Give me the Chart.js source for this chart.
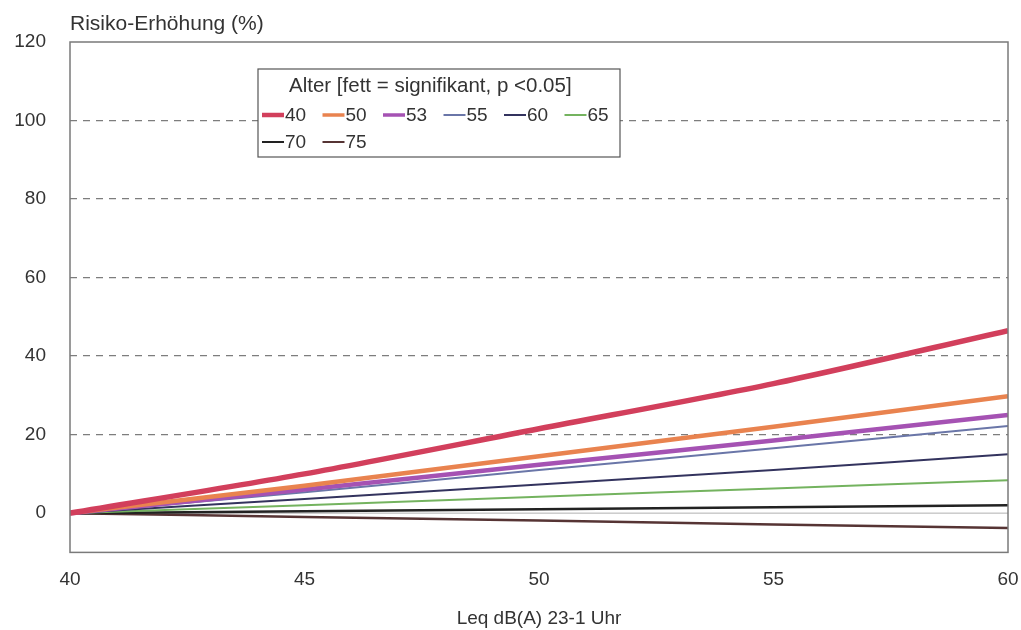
<!DOCTYPE html>
<html>
<head>
<meta charset="utf-8">
<script src="https://cdn.jsdelivr.net/npm/chart.js@4/dist/chart.umd.min.js"></script>
<style>
  html, body { margin: 0; padding: 0; background: #fff; }
  #wrap { width: 1021px; height: 630px; position: relative; }
</style>
</head>
<body>
<div id="wrap"><canvas id="riskChart" width="1021" height="630"></canvas></div>
<script>
// Leq values on the x axis
const leqLevels = [40, 45, 50, 55, 60];
const yTickValues = [0, 20, 40, 60, 80, 100, 120];

// Risk increase (%) per age group
const age40 = [0, 10, 21.5, 33, 46.5];
const age50 = [0, 7, 14.5, 22, 29.8];
const age53 = [0, 6, 12.3, 18.5, 25];
const age55 = [0, 5.3, 11, 16.5, 22.2];
const age60 = [0, 3.6, 7.3, 11, 15];
const age65 = [0, 2, 4.2, 6.3, 8.4];
const age70 = [0, 0.5, 1, 1.5, 2];
const age75 = [0, -1, -1.9, -2.9, -3.8];

const ageLabels = ['40', '50', '53', '55', '60', '65', '70', '75'];
const seriesValues = [age40, age50, age53, age55, age60, age65, age70, age75];
const lineColors = ['#d23f5c', '#e9834f', '#a552b3', '#6a76a8', '#33335e', '#74b35f', '#222222', '#563434'];
const lineWidths = [5.5, 4.5, 4.5, 2, 2, 2, 2.5, 2.5];

const fontFam = '"Liberation Sans", Arial, sans-serif';

const datasets = seriesValues.map((vals, i) => ({
    label: ageLabels[i],
    data: vals.map((v, j) => ({ x: leqLevels[j], y: v })),
    borderColor: lineColors[i],
    backgroundColor: lineColors[i],
    borderWidth: lineWidths[i],
    pointRadius: 0,
    tension: 0.3,
    fill: false,
    order: i
}));

// frame, zero line, axis title and the boxed legend
const extras = {
    id: 'extras',
    beforeDatasetsDraw(chart) {
        const { ctx, chartArea: a, scales } = chart;
        const y0 = scales.y.getPixelForValue(0);
        ctx.save();
        ctx.strokeStyle = '#b0b0b0';
        ctx.lineWidth = 1;
        ctx.beginPath();
        ctx.moveTo(a.left, y0);
        ctx.lineTo(a.right, y0);
        ctx.stroke();
        ctx.restore();
    },
    afterDraw(chart) {
        const { ctx, chartArea: a } = chart;
        ctx.save();
        ctx.strokeStyle = '#7a7a7a';
        ctx.lineWidth = 1.5;
        ctx.strokeRect(a.left, a.top, a.right - a.left, a.bottom - a.top);

        ctx.fillStyle = '#333';
        ctx.font = '21px ' + fontFam;
        ctx.textAlign = 'left';
        ctx.textBaseline = 'middle';
        ctx.fillText('Risiko-Erhöhung (%)', a.left, 24);

        // legend box
        const bx = 258, by = 69, bw = 362, bh = 88;
        ctx.fillStyle = '#fff';
        ctx.fillRect(bx, by, bw, bh);
        ctx.strokeStyle = '#555';
        ctx.lineWidth = 1.2;
        ctx.strokeRect(bx, by, bw, bh);
        ctx.fillStyle = '#333';
        ctx.font = '20.5px ' + fontFam;
        ctx.fillText('Alter [fett = signifikant, p <0.05]', 289, 86);

        const perRow = 6;
        ctx.font = '19px ' + fontFam;
        chart.data.datasets.forEach((d, i) => {
            const row = Math.floor(i / perRow);
            const col = i % perRow;
            const x = 262 + col * 60.5;
            const y = 115 + row * 27;
            ctx.strokeStyle = d.borderColor;
            ctx.lineWidth = Math.max(2, d.borderWidth - 1);
            ctx.beginPath();
            ctx.moveTo(x, y);
            ctx.lineTo(x + 22, y);
            ctx.stroke();
            ctx.fillStyle = '#333';
            ctx.fillText(d.label, x + 23, y + 1);
        });
        ctx.restore();
    }
};

new Chart(document.getElementById('riskChart'), {
    type: 'line',
    data: { datasets: datasets },
    plugins: [extras],
    options: {
        responsive: false,
        animation: false,
        layout: { padding: { top: 42, right: 0, left: 0, bottom: 0 } },
        plugins: { legend: { display: false }, tooltip: { enabled: false } },
        scales: {
            x: {
                type: 'linear',
                min: 40,
                max: 60,
                afterFit(scale) { scale.paddingRight = 13; },
                grid: { display: false, drawTicks: false },
                border: { display: false },
                ticks: {
                    stepSize: 5,
                    padding: 16,
                    color: '#333',
                    font: { family: fontFam, size: 19 }
                },
                title: {
                    display: true,
                    text: 'Leq dB(A) 23-1 Uhr',
                    color: '#333',
                    font: { family: fontFam, size: 19 },
                    padding: { top: 0, bottom: 0 }
                }
            },
            y: {
                min: -10,
                max: 120,
                afterBuildTicks(scale) {
                    scale.ticks = yTickValues.map(v => ({ value: v }));
                },
                afterFit(scale) { scale.width = 70; },
                grid: {
                    drawTicks: false,
                    lineWidth: 1.2,
                    color: (c) => (c.tick && (c.tick.value === 0 || c.tick.value === 120)) ? 'rgba(0,0,0,0)' : '#7d7d7d'
                },
                border: { display: false, dash: [7, 6] },
                ticks: {
                    padding: 24,
                    color: '#333',
                    font: { family: fontFam, size: 19 }
                }
            }
        }
    }
});
</script>
</body>
</html>
